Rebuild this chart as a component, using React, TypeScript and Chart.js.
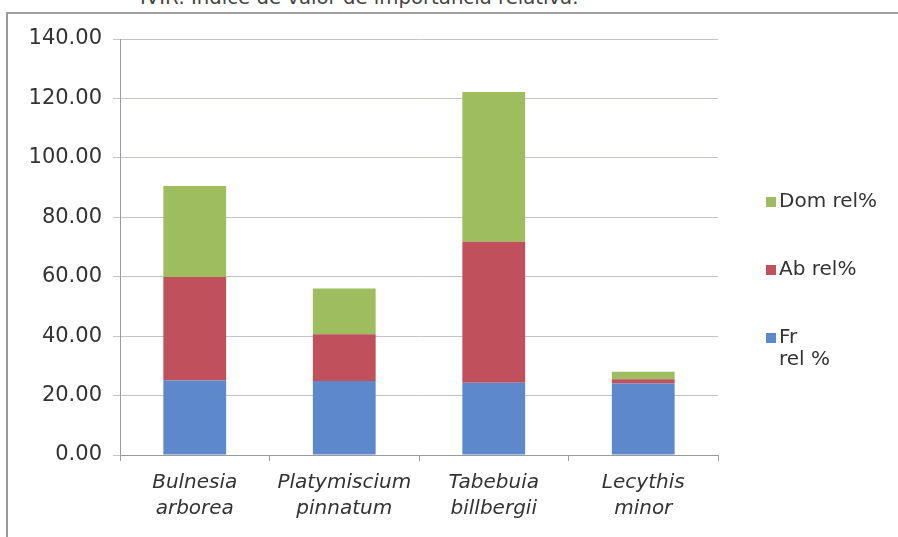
import React, { useEffect, useRef } from "react";
import { Chart, registerables } from "chart.js";

Chart.register(...registerables);

const categories: string[][] = [
  ["Bulnesia", "arborea"],
  ["Platymiscium", "pinnatum"],
  ["Tabebuia", "billbergii"],
  ["Lecythis", "minor"],
];
const frRel = [25.1, 24.9, 24.3, 24.1];
const abRel = [34.8, 15.7, 47.5, 1.4];
const domRel = [30.6, 15.4, 50.4, 2.5];
const seriesNames = ["Fr rel %", "Ab rel%", "Dom rel%"];
const legendLines: string[][] = [["Fr", "rel %"], ["Ab rel%"], ["Dom rel%"]];
const seriesColors = ["#5e88cc", "#c0505c", "#9dbd5e"];
const yTicks = [0, 20, 40, 60, 80, 100, 120, 140];
const headerText = "IVIR: Índice de valor de importancia relativa.";

const FONT = "'DejaVu Sans', 'Liberation Sans', Arial, sans-serif";
const TEXT = "#333333";

const legendPlugin = {
  id: "customLegend",
  afterDraw(chart: any) {
    const { ctx, chartArea } = chart;
    const n = chart.data.datasets.length;
    ctx.save();
    ctx.font = `20px ${FONT}`;
    ctx.textBaseline = "middle";
    ctx.textAlign = "left";
    const x = chartArea.right + 48;
    const y0 = chartArea.top + 163;
    const step = 68;
    for (let k = 0; k < n; k++) {
      const i = n - 1 - k;
      const ds = chart.data.datasets[i];
      const y = y0 + k * step;
      ctx.fillStyle = ds.backgroundColor;
      ctx.fillRect(x, y - 5, 10, 10);
      ctx.fillStyle = TEXT;
      const lines = legendLines[i];
      lines.forEach((t: string, j: number) => {
        ctx.fillText(t, x + 13, y + j * 22);
      });
    }
    ctx.restore();
  },
};

export default function App() {
  const ref = useRef<HTMLCanvasElement | null>(null);
  useEffect(() => {
    if (!ref.current) return;
    const values = [frRel, abRel, domRel];
    const chart = new Chart(ref.current, {
      type: "bar",
      data: {
        labels: categories,
        datasets: values.map((v, i) => ({
          label: seriesNames[i],
          data: v,
          backgroundColor: seriesColors[i],
          borderWidth: 0,
          barPercentage: 0.42,
          categoryPercentage: 1,
        })),
      },
      options: {
        animation: false,
        responsive: false,
        events: [],
        layout: { padding: { left: 0, top: 39, right: 180, bottom: 12 } },
        plugins: { legend: { display: false }, tooltip: { enabled: false } },
        scales: {
          x: {
            stacked: true,
            grid: {
              drawOnChartArea: false,
              drawTicks: true,
              tickLength: 6,
              color: "#9a9a9a",
              offset: true,
            },
            border: { color: "#9a9a9a", width: 1 },
            ticks: {
              color: TEXT,
              font: { family: FONT, size: 20, style: "italic", lineHeight: 1.3 },
              padding: 9,
              maxRotation: 0,
              autoSkip: false,
            },
            afterFit: (s: any) => {
              s.height = 70;
            },
          },
          y: {
            stacked: true,
            min: 0,
            max: 140,
            afterBuildTicks: (s: any) => {
              s.ticks = yTicks.map((v) => ({ value: v }));
            },
            grid: {
              color: "#c2c2d0",
              lineWidth: 1,
              drawTicks: true,
              tickLength: 7,
            },
            border: { color: "#9a9a9a", width: 1 },
            ticks: {
              color: TEXT,
              font: { family: FONT, size: 21 },
              padding: 11,
              callback: (v: any) => Number(v).toFixed(2),
            },
            afterFit: (s: any) => {
              s.width = 120;
            },
          },
        },
      },
      plugins: [legendPlugin],
    });
    return () => chart.destroy();
  }, []);

  return (
    <div
      style={{
        position: "fixed",
        left: 0,
        top: 0,
        width: 898,
        height: 537,
        overflow: "hidden",
        background: "#fff",
      }}
    >
      <div
        style={{
          position: "absolute",
          left: 140,
          top: -14,
          fontFamily: FONT,
          fontSize: 19.7,
          color: "#444",
          whiteSpace: "nowrap",
          lineHeight: "24px",
        }}
      >
        {headerText}
      </div>
      <div
        style={{
          position: "absolute",
          left: 6,
          top: 12,
          width: 1000,
          height: 1000,
          borderLeft: "2px solid #999",
          borderTop: "2px solid #a0a0a0",
        }}
      />
      <canvas
        ref={ref}
        width={898}
        height={537}
        style={{ position: "absolute", left: 0, top: 0, width: 898, height: 537 }}
      />
    </div>
  );
}
